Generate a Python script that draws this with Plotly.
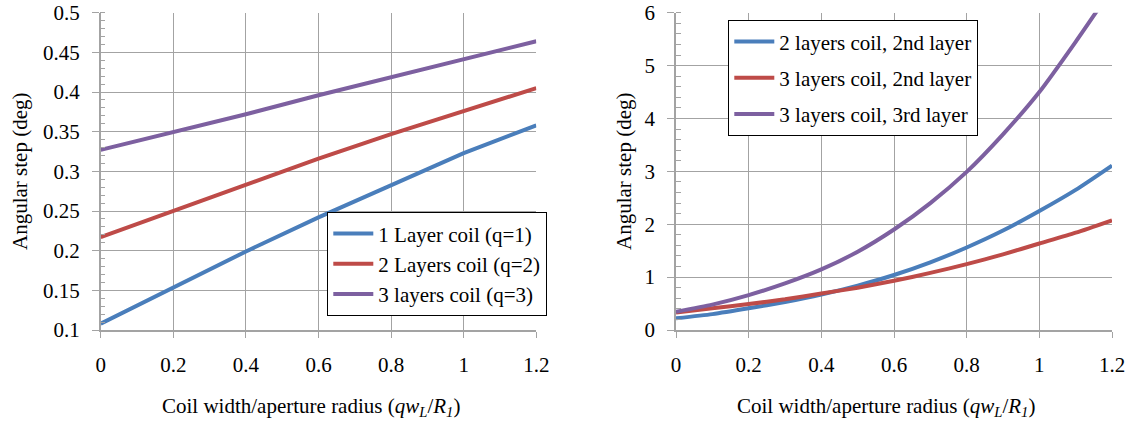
import plotly.graph_objects as go

# ---------------- data ----------------
x_left = [0.0, 0.2, 0.4, 0.6, 0.8, 1.0, 1.2]
left_names = ["1 Layer coil (q=1)", "2 Layers coil (q=2)", "3 layers coil (q=3)"]
left_q1 = [0.108, 0.154, 0.199, 0.242, 0.283, 0.323, 0.358]
left_q2 = [0.217, 0.250, 0.284, 0.316, 0.347, 0.376, 0.405]
left_q3 = [0.327, 0.349, 0.372, 0.396, 0.419, 0.442, 0.464]

x_right = [0.0, 0.1, 0.2, 0.3, 0.4, 0.5, 0.6, 0.7, 0.8, 0.9, 1.0, 1.1, 1.2]
right_names = ["2 layers coil, 2nd layer", "3 layers coil, 2nd layer", "3 layers coil, 3rd layer"]
right_2l2 = [0.22, 0.30, 0.41, 0.53, 0.67, 0.84, 1.04, 1.28, 1.56, 1.88, 2.25, 2.65, 3.11]
right_3l2 = [0.33, 0.41, 0.49, 0.58, 0.69, 0.80, 0.93, 1.08, 1.245, 1.43, 1.635, 1.84, 2.075]
right_3l3 = [0.345, 0.48, 0.66, 0.88, 1.145, 1.48, 1.90, 2.40, 2.99, 3.70, 4.50, 5.45, 6.45]

x_ticks = [0, 0.2, 0.4, 0.6, 0.8, 1.0, 1.2]
x_ticktext = ["0", "0.2", "0.4", "0.6", "0.8", "1", "1.2"]
left_yticks = [0.1, 0.15, 0.2, 0.25, 0.3, 0.35, 0.4, 0.45, 0.5]
left_yticktext = ["0.1", "0.15", "0.2", "0.25", "0.3", "0.35", "0.4", "0.45", "0.5"]
right_yticks = [0, 1, 2, 3, 4, 5, 6]

y_title = "Angular step (deg)"
x_title = "Coil width/aperture radius (<i>qw</i><sub><i>L</i></sub>/<i>R</i><sub><i>1</i></sub>)"

colors = ["#4A7EBB", "#BE4B48", "#7D60A0"]

# ---------------- figure ----------------
W, H = 1133, 423
FONT = "Liberation Serif"

def px_x(p):
    return p / W

def px_y(p):
    return (H - p) / H

fig = go.Figure()

for i, (name, ys) in enumerate(zip(left_names, [left_q1, left_q2, left_q3])):
    fig.add_trace(go.Scatter(
        x=x_left, y=ys, mode="lines", name=name,
        line=dict(color=colors[i], width=4),
        xaxis="x", yaxis="y", legend="legend", legendgroup="L%d" % i,
    ))

for i, (name, ys) in enumerate(zip(right_names, [right_2l2, right_3l2, right_3l3])):
    fig.add_trace(go.Scatter(
        x=x_right, y=ys, mode="lines", name=name,
        line=dict(color=colors[i], width=4, shape="spline", smoothing=0.6),
        xaxis="x2", yaxis="y2", legend="legend2", legendgroup="R%d" % i,
    ))

GRID = "#a3a3a3"
common_x = dict(
    range=[0, 1.2], tickvals=x_ticks, ticktext=x_ticktext,
    showgrid=True, gridcolor=GRID, gridwidth=1.3,
    showline=True, linecolor=GRID, linewidth=1.5,
    ticks="outside", ticklen=6, tickcolor=GRID, tickwidth=1.3,
    ticklabelstandoff=9, zeroline=False, automargin=False,
    tickfont=dict(family=FONT, size=21, color="black"),
)
common_y = dict(
    showgrid=True, gridcolor=GRID, gridwidth=1.3,
    showline=True, linecolor=GRID, linewidth=1.5,
    ticks="outside", ticklen=7, tickcolor=GRID, tickwidth=1.3,
    ticklabelstandoff=8, zeroline=False, automargin=False,
    tickfont=dict(family=FONT, size=21, color="black"),
)

y_dom = [px_y(330), px_y(12.7)]

fig.update_layout(
    width=W, height=H,
    margin=dict(l=0, r=0, t=0, b=0, autoexpand=False),
    paper_bgcolor="white", plot_bgcolor="white",
    font=dict(family=FONT, size=21, color="black"),
    xaxis=dict(domain=[px_x(100.7), px_x(536.3)], anchor="y", **common_x),
    yaxis=dict(domain=y_dom, anchor="x", range=[0.1, 0.5],
               tickvals=left_yticks, ticktext=left_yticktext,
               minor=dict(ticks="inside", ticklen=5, dtick=0.01, tickcolor=GRID, tickwidth=1.2, showgrid=False),
               **common_y),
    xaxis2=dict(domain=[px_x(676), px_x(1112)], anchor="y2", **common_x),
    yaxis2=dict(domain=y_dom, anchor="x2", range=[0, 6],
                tickvals=right_yticks,
                minor=dict(ticks="inside", ticklen=5, dtick=0.2, tickcolor=GRID, tickwidth=1.2, showgrid=False),
                **common_y),
    legend=dict(
        x=px_x(327), y=px_y(212), xanchor="left", yanchor="top",
        bgcolor="white", bordercolor="black", borderwidth=1.3,
        font=dict(family=FONT, size=21, color="black"),
        tracegroupgap=0, itemwidth=40,
    ),
    legend2=dict(
        x=px_x(728), y=px_y(20), xanchor="left", yanchor="top",
        bgcolor="white", bordercolor="black", borderwidth=1.3,
        font=dict(family=FONT, size=21, color="black"),
        tracegroupgap=6, itemwidth=40,
    ),
    showlegend=True,
)

annotations = [
    dict(x=px_x(20), y=px_y(172), text=y_title, textangle=-90, showarrow=False,
         xref="paper", yref="paper", xanchor="center", yanchor="middle",
         font=dict(family=FONT, size=21, color="black")),
    dict(x=px_x(624), y=px_y(172), text=y_title, textangle=-90, showarrow=False,
         xref="paper", yref="paper", xanchor="center", yanchor="middle",
         font=dict(family=FONT, size=21, color="black")),
    dict(x=px_x(311), y=px_y(407), text=x_title, showarrow=False,
         xref="paper", yref="paper", xanchor="center", yanchor="middle",
         font=dict(family=FONT, size=21, color="black")),
    dict(x=px_x(886), y=px_y(407), text=x_title, showarrow=False,
         xref="paper", yref="paper", xanchor="center", yanchor="middle",
         font=dict(family=FONT, size=21, color="black")),
]
fig.update_layout(annotations=annotations)

fig.write_html(
    "out.html",
    config={"displayModeBar": False},
    post_script="document.body.style.margin='0';document.body.style.overflow='hidden';",
)
